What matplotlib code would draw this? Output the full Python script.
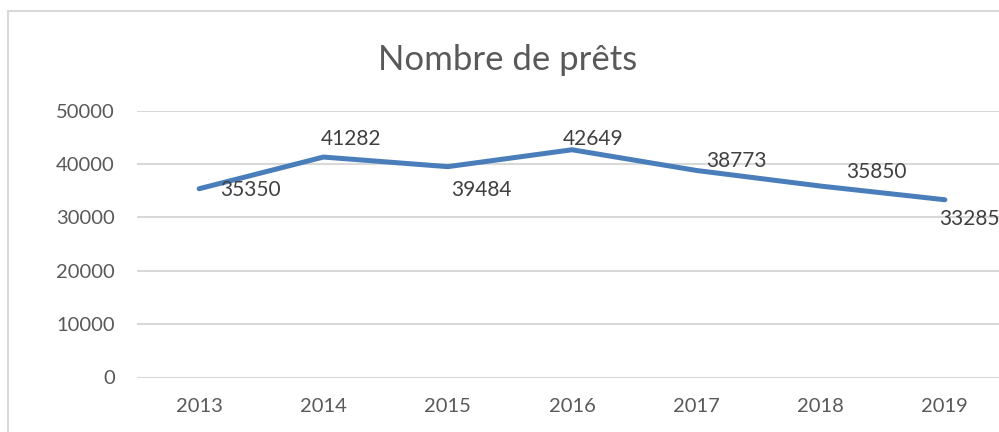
import matplotlib.pyplot as plt
from matplotlib.patches import Rectangle

plt.rcParams["font.family"] = ["Lato", "DejaVu Sans"]

years = ["2013", "2014", "2015", "2016", "2017", "2018", "2019"]
prets = [35350, 41282, 39484, 42649, 38773, 35850, 33285]
y_ticks = [0, 10000, 20000, 30000, 40000, 50000]

# decalage des etiquettes (points), comme dans Excel
label_offsets = [(37, -1), (20, 13), (24, -17), (15, 8), (29, 7), (40, 10), (18, -14)]

W, H = 999, 432
fig = plt.figure(figsize=(W / 100, H / 100), dpi=100)

# cadre du graphique
fig.patches.append(Rectangle((8 / W, -0.1), 1.2, 1 - 11 / H + 0.1,
                             transform=fig.transFigure, fill=False,
                             edgecolor="#D9D9D9", linewidth=1.5))

ax = fig.add_axes([137 / W, 1 - 377.5 / H, 870 / W, 267 / H])
x = list(range(len(years)))
ax.plot(x, prets, color="#4A7EBB", linewidth=3.6, solid_capstyle="round",
        solid_joinstyle="round", zorder=3)

for xi, v, off in zip(x, prets, label_offsets):
    ax.annotate(str(v), (xi, v), xytext=off, textcoords="offset points",
                ha="center", va="center", fontsize=15, color="#404040",
                annotation_clip=False, zorder=4)

ax.set_xlim(-0.5, len(years) - 0.5)
ax.set_ylim(0, 50000)
ax.set_yticks(y_ticks)
ax.set_yticklabels([str(t) for t in y_ticks])
ax.set_xticks(x)
ax.set_xticklabels(years)
ax.grid(axis="y", color="#D9D9D9", linewidth=1.5)
ax.set_axisbelow(True)
for s in ax.spines.values():
    s.set_visible(False)
ax.tick_params(axis="both", length=0, labelsize=14.5, labelcolor="#595959")
ax.tick_params(axis="y", pad=16)
ax.tick_params(axis="x", pad=15)

fig.text(508 / W, 1 - 60 / H, "Nombre de prêts", ha="center", va="center",
         fontsize=25, color="#595959")

fig.savefig("out.png", dpi=100)
